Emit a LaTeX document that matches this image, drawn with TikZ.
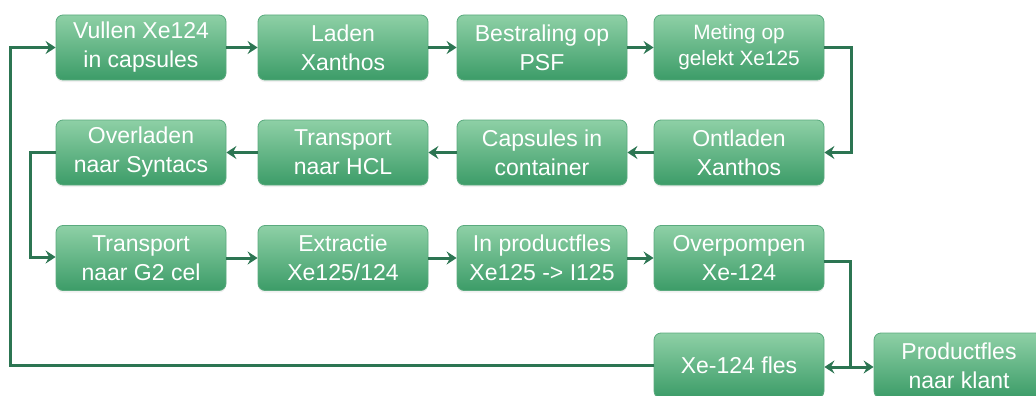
\documentclass[tikz,border=0pt]{standalone}
\usepackage{fontspec}
\setmainfont{Liberation Sans}
\usetikzlibrary{arrows.meta,shadows}
\definecolor{boxtop}{HTML}{8ED0A6}
\definecolor{boxbot}{HTML}{3C9C68}
\definecolor{boxline}{HTML}{5AAA7E}
\definecolor{conn}{HTML}{2C7552}
\tikzset{
  stepbox/.style={draw=boxline, line width=0.8pt, rounded corners=7pt,
    minimum width=170pt, minimum height=65pt, inner sep=0pt,
    top color=boxtop, bottom color=boxbot, text=white, align=center,
    font=\fontsize{23}{29}\selectfont,
    drop shadow={opacity=0.12, shadow xshift=0pt, shadow yshift=-2pt}},
  smalltext/.style={font=\fontsize{20.8}{26}\selectfont},
  conn/.style={draw=conn, line width=3pt, -{Stealth[length=10pt,width=13pt,inset=3.5pt]}},
  plain/.style={draw=conn, line width=3pt}
}
\begin{document}
\begin{tikzpicture}[x=1pt,y=-1pt]
\useasboundingbox (0,0) rectangle (1036,396);
% row 1
\node[stepbox] (a1) at (141,47.5) {Vullen Xe124\\in capsules};
\node[stepbox] (a2) at (343,47.5) {Laden\\Xanthos};
\node[stepbox] (a3) at (542,47.5) {Bestraling op\\PSF};
\node[stepbox,smalltext] (a4) at (739,47.5) {Meting op\\gelekt Xe125};
% row 2
\node[stepbox] (b1) at (141,152.5) {Overladen\\naar Syntacs};
\node[stepbox] (b2) at (343,152.5) {Transport\\naar HCL};
\node[stepbox] (b3) at (542,152.5) {Capsules in\\container};
\node[stepbox] (b4) at (739,152.5) {Ontladen\\Xanthos};
% row 3
\node[stepbox] (c1) at (141,258) {Transport\\naar G2 cel};
\node[stepbox] (c2) at (343,258) {Extractie\\Xe125/124};
\node[stepbox] (c3) at (542,258) {In productfles\\Xe125 -> I125};
\node[stepbox] (c4) at (739,258) {Overpompen\\Xe-124};
% row 4
\node[stepbox] (d4) at (739,365.5) {Xe-124 fles};
\node[stepbox] (d5) at (959,365.5) {Productfles\\naar klant};
% junction coordinates
\coordinate (ja) at (851,47.5);
\coordinate (jb) at (851,152.5);
\coordinate (jc) at (850,261);
\coordinate (jd) at (850,367);
\coordinate (l1) at (10,365.5);
\coordinate (l2) at (10,47.5);
\coordinate (m1) at (30,152.5);
\coordinate (m2) at (30,257);
% connectors
\draw[conn] (a1) -- (a2);
\draw[conn] (a2) -- (a3);
\draw[conn] (a3) -- (a4);
\draw[conn] (a4.east) -- (ja) -- (jb) -- (b4.east);
\draw[conn] (b4) -- (b3);
\draw[conn] (b3) -- (b2);
\draw[conn] (b2) -- (b1);
\draw[conn] (b1.west) -- (m1) -- (m2) -- (c1.west |- m2);
\draw[conn] (c1) -- (c2);
\draw[conn] (c2) -- (c3);
\draw[conn] (c3) -- (c4);
\draw[plain] (c4.east |- jc) -- (jc) -- (jd);
\draw[conn] (jd) -- (d4.east |- jd);
\draw[conn] (jd) -- (d5.west |- jd);
\draw[conn] (d4.west) -- (l1) -- (l2) -- (a1.west);
\end{tikzpicture}
\end{document}
